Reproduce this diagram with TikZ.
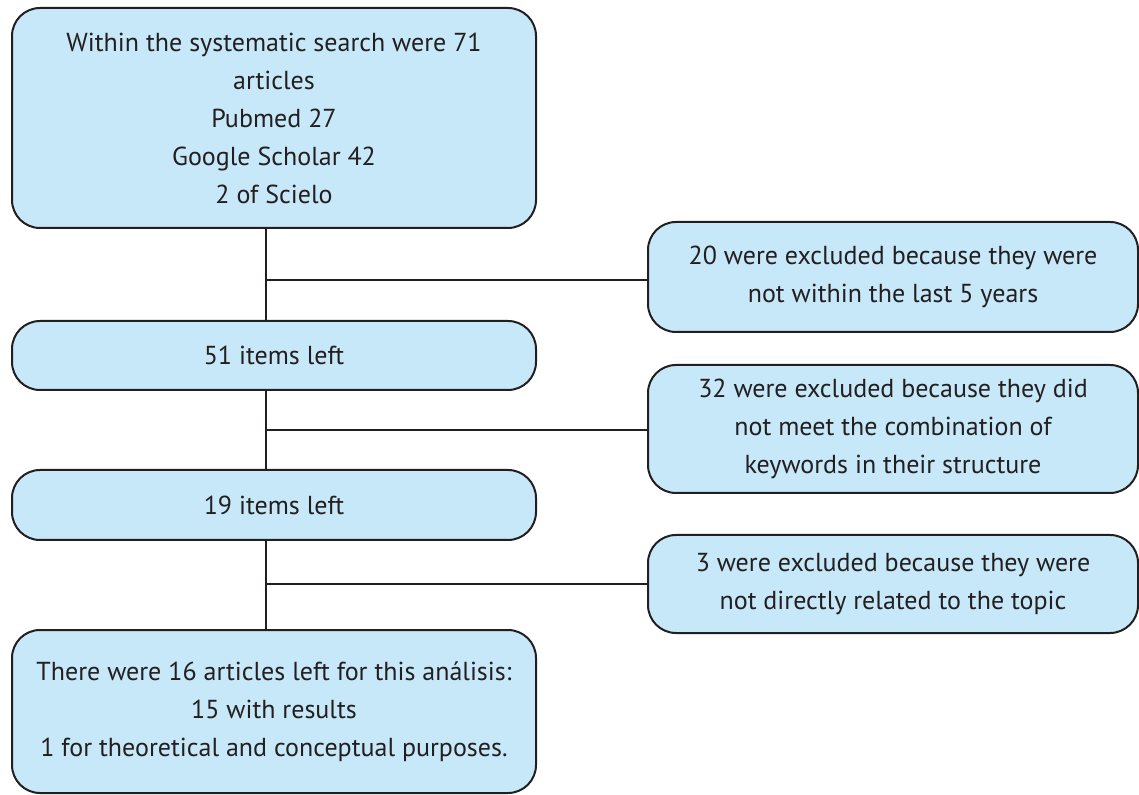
\documentclass[tikz,border=0pt]{standalone}
\usepackage{fontspec}
\setmainfont{PT Sans}
\usepackage{tikz}
\usetikzlibrary{calc}
\definecolor{boxfill}{RGB}{199,232,248}
\definecolor{boxline}{RGB}{35,31,32}
\tikzset{>=stealth}
\tikzset{flowbox/.style={draw=boxline,fill=boxfill,line width=1pt,rounded corners=14pt,
  align=center,inner sep=0pt,font=\fontsize{13}{19}\selectfont,text=boxline},
  link/.style={draw=boxline,line width=0.8pt}}

\begin{document}
\begin{tikzpicture}[x=0.5pt,y=-0.5pt]
      \useasboundingbox (0,0) rectangle (1139,795);
      \node[flowbox,minimum width=262pt,minimum height=110pt] (search) at (274,118)
        {\raisebox{-2pt}{}Within the systematic search were 71\\articles\\Pubmed 27\\Google Scholar 42\\2 of Scielo};
      \node[flowbox,minimum width=262pt,minimum height=34.5pt] (left51) at (274,355.5) {51 items left};
      \node[flowbox,minimum width=262pt,minimum height=35pt] (left19) at (274,505) {19 items left};
      \node[flowbox,minimum width=262pt,minimum height=81.5pt] (final) at (274,711.5)
        {There were 16 articles left for this análisis:\\15 with results\\1 for theoretical and conceptual purposes.};
      \node[flowbox,minimum width=245pt,minimum height=55pt] (excl20) at (893,277)
        {20 were excluded because they were\\not within the last 5 years};
      \node[flowbox,minimum width=245pt,minimum height=64pt] (excl32) at (893,429)
        {32 were excluded because they did\\not meet the combination of\\keywords in their structure};
      \node[flowbox,minimum width=245pt,minimum height=49pt] (excl3) at (893,584)
        {3 were excluded because they were\\not directly related to the topic};
      \coordinate (j1) at (266,280);
      \coordinate (j2) at (266,430);
      \coordinate (j3) at (266,584);
      \draw[link] (search.south -| j1) -- (left51.north -| j1);
      \draw[link] (left51.south -| j2) -- (left19.north -| j2);
      \draw[link] (left19.south -| j3) -- (final.north -| j3);
      \draw[link] (j1) -- (excl20.west |- j1);
      \draw[link] (j2) -- (excl32.west |- j2);
      \draw[link] (j3) -- (excl3.west |- j3);
\end{tikzpicture}
\end{document}
